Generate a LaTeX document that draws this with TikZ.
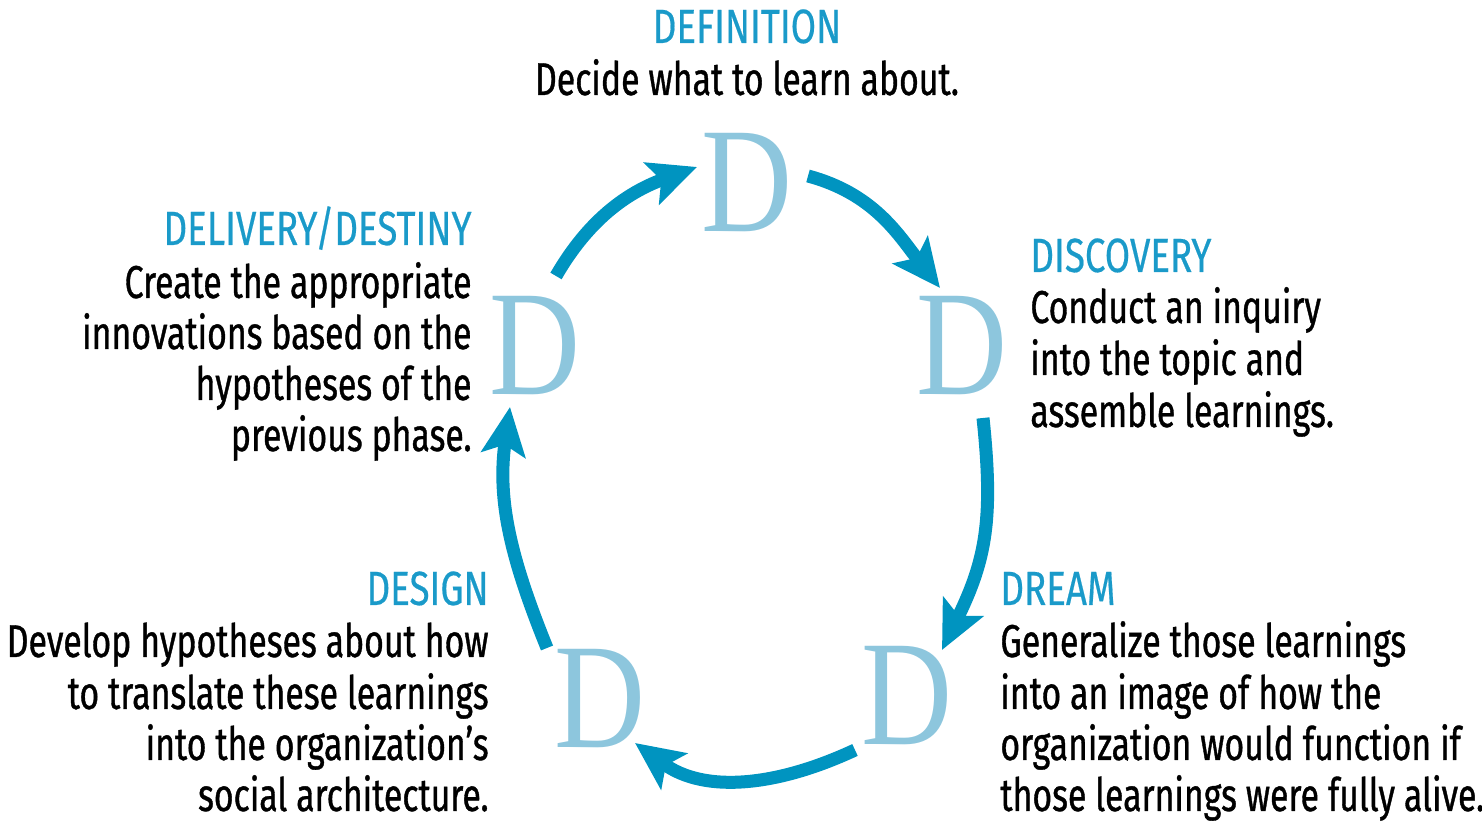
\documentclass[tikz,border=0pt]{standalone}
\usepackage{fontspec}
\setmainfont{Fira Sans}[FakeStretch=0.735,FakeBold=0.8]
\newfontfamily\titlefont{Fira Sans}[FakeStretch=0.765,FakeBold=0.4]
\newfontfamily\dfont{Liberation Serif}[FakeStretch=0.84]
\usetikzlibrary{arrows.meta}
\definecolor{arrowblue}{HTML}{0094C0}
\definecolor{titleblue}{HTML}{1A9AC9}
\definecolor{dblue}{HTML}{8DC6DD}
\begin{document}
\begin{tikzpicture}[x=0.5pt,y=0.5pt,
  bigd/.style={inner sep=0pt, anchor=base, text=dblue, font=\dfont\fontsize{75}{75}\selectfont},
  ttl/.style={inner sep=0pt, text=titleblue, font=\titlefont\fontsize{24}{24}\selectfont},
  body/.style={inner sep=0pt, font=\fontsize{23}{25}\selectfont},
  cyc/.style={draw=arrowblue, line width=6.5pt, -{Stealth[length=24pt, width=22pt, inset=5pt]}}
]
\useasboundingbox (0,0) rectangle (1482,822);

% the five D's
\node[bigd] (dA) at (747,590) {D};
\node[bigd] (dB) at (962,427) {D};
\node[bigd] (dC) at (907,77) {D};
\node[bigd] (dD) at (600,74) {D};
\node[bigd] (dE) at (535,427) {D};

% arrow end points
\coordinate (a1s) at (556,546);
\coordinate (a1e) at (697,655);
\coordinate (a2s) at (808,646);
\coordinate (a2e) at (940,534);
\coordinate (a3s) at (983,404);
\coordinate (a3e) at (942,172);
\coordinate (a4s) at (855,72);
\coordinate (a4e) at (635,79);
\coordinate (a5s) at (547,174);
\coordinate (a5e) at (510,415);

\draw[cyc] (a1s) to[out=60,in=200] (a1e);
\draw[cyc] (a2s) to[out=-15,in=128] (a2e);
\draw[cyc] (a3s) to[out=-84,in=64,looseness=1.1] (a3e);
\draw[cyc] (a4s) to[out=205,in=-36] (a4e);
\draw[cyc] (a5s) to[out=112,in=262] (a5e);

% DEFINITION
\node[ttl, anchor=base] (defT) at (747,779) {DEFINITION};
\node[body, anchor=base] (defB) at (747,727) {Decide what to learn about.};

% DISCOVERY
\node[ttl, anchor=base west] (disT) at (1030,550) {DISCOVERY};
\node[body, anchor=base west] (disB1) at (1030,499) {Conduct an inquiry};
\node[body, anchor=base west] (disB2) at (1030,447) {into the topic and};
\node[body, anchor=base west] (disB3) at (1030,395) {assemble learnings.};

% DREAM
\node[ttl, anchor=base west] (drmT) at (1000,217) {DREAM};
\node[body, anchor=base west] (drmB1) at (1000,165) {Generalize those learnings};
\node[body, anchor=base west] (drmB2) at (1000,113) {into an image of how the};
\node[body, anchor=base west] (drmB3) at (1000,62) {organization would function if};
\node[body, anchor=base west] (drmB4) at (1000,11) {those learnings were fully alive.};

% DESIGN
\node[ttl, anchor=base east] (desT) at (489,217) {DESIGN};
\node[body, anchor=base east] (desB1) at (489,165) {Develop hypotheses about how};
\node[body, anchor=base east] (desB2) at (489,113) {to translate these learnings};
\node[body, anchor=base east] (desB3) at (489,62) {into the organization’s};
\node[body, anchor=base east] (desB4) at (489,11) {social architecture.};

% DELIVERY/DESTINY
\node[ttl, anchor=base east] (delT) at (472,577) {DELIVERY/DESTINY};
\node[body, anchor=base east] (delB1) at (472,524) {Create the appropriate};
\node[body, anchor=base east] (delB2) at (472,473) {innovations based on the};
\node[body, anchor=base east] (delB3) at (472,422) {hypotheses of the};
\node[body, anchor=base east] (delB4) at (472,371) {previous phase.};
\end{tikzpicture}
\end{document}
